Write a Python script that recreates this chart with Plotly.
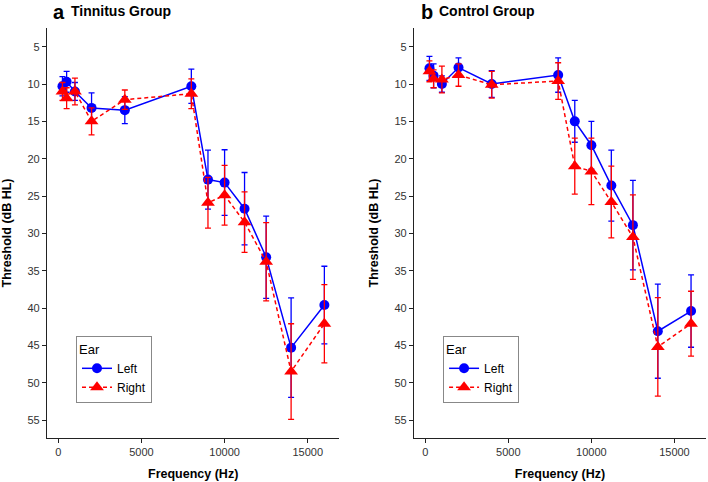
import plotly.graph_objects as go

freqs = [250, 500, 1000, 2000, 4000, 8000, 9000, 10000, 11200, 12500, 14000, 16000]

# Tinnitus group (panel a)
tin_left = [10.3, 9.7, 11.0, 13.2, 13.5, 10.3, 22.8, 23.2, 26.7, 33.2, 45.3, 39.6]
tin_left_se = [1.3, 1.4, 1.2, 2.0, 1.8, 2.3, 3.95, 4.4, 4.85, 5.5, 6.65, 5.2]
tin_right = [11.0, 11.9, 11.0, 15.0, 12.1, 11.3, 25.9, 24.9, 28.5, 33.8, 48.5, 42.1]
tin_right_se = [1.2, 1.4, 1.8, 1.8, 1.3, 2.0, 3.4, 4.0, 4.05, 5.25, 6.4, 5.25]

# Control group (panel b)
con_left = [7.9, 8.9, 10.0, 7.8, 10.0, 8.8, 15.0, 18.2, 23.6, 28.9, 43.1, 40.4]
con_left_se = [1.6, 1.6, 1.1, 1.3, 1.8, 2.3, 2.8, 3.2, 4.75, 6.0, 6.3, 4.85]
con_right = [8.3, 9.3, 9.4, 8.8, 10.1, 9.6, 21.0, 21.7, 25.8, 30.5, 45.2, 42.1]
con_right_se = [1.4, 1.2, 1.8, 1.5, 1.8, 2.45, 3.75, 4.45, 4.8, 5.65, 6.6, 4.35]

panel_letters = ["a", "b"]
panel_titles = ["Tinnitus Group", "Control Group"]
ear_names = ["Left", "Right"]
y_ticks = [5, 10, 15, 20, 25, 30, 35, 40, 45, 50, 55]
x_ticks = [0, 5000, 10000, 15000]
x_tick_labels = ["0", "5000", "10000", "15000"]

BLUE = "#0000FF"
RED = "#FF0000"
FONT = "Liberation Sans, Arial, sans-serif"

fig = go.Figure()

panels = [
    ("x", "y", "legend", tin_left, tin_left_se, tin_right, tin_right_se),
    ("x2", "y2", "legend2", con_left, con_left_se, con_right, con_right_se),
]

for xa, ya, lg, lv, lse, rv, rse in panels:
    fig.add_trace(go.Scatter(
        x=freqs, y=lv, xaxis=xa, yaxis=ya, legend=lg, name=ear_names[0],
        mode="lines+markers",
        line=dict(color=BLUE, width=1.5),
        marker=dict(symbol="circle", size=10, color=BLUE),
        error_y=dict(type="data", array=lse, symmetric=True, color=BLUE,
                     thickness=1.3, width=3),
    ))
    fig.add_trace(go.Scatter(
        x=freqs, y=rv, xaxis=xa, yaxis=ya, legend=lg, name=ear_names[1],
        mode="lines+markers",
        line=dict(color=RED, width=1.5, dash="4px,3px"),
        marker=dict(symbol="triangle-up", size=12, color=RED),
        error_y=dict(type="data", array=rse, symmetric=True, color=RED,
                     thickness=1.3, width=3),
    ))

axis_common = dict(
    showgrid=False, zeroline=False, showline=True, linecolor="#222222", linewidth=1.2,
    ticks="outside", ticklen=4, tickwidth=1, tickcolor="#222222",
    tickfont=dict(family=FONT, size=11, color="#333333"),
)

xr = [-680, 16900]
yr = [57.4, 2.5]

fig.update_layout(
    width=708, height=482,
    margin=dict(l=47, r=2, t=28, b=44),
    paper_bgcolor="white", plot_bgcolor="white",
    font=dict(family=FONT, color="black"),
    xaxis=dict(domain=[0, 0.4436], range=xr, tickvals=x_ticks, ticktext=x_tick_labels,
               anchor="y",
               title=dict(text="<b>Frequency (Hz)</b>", font=dict(size=12.5), standoff=11),
               **axis_common),
    yaxis=dict(domain=[0, 1], range=yr, tickvals=y_ticks, anchor="x",
               title=dict(text="<b>Threshold (dB HL)</b>", font=dict(size=12.5), standoff=13),
               **axis_common),
    xaxis2=dict(domain=[0.5569, 1.0], range=xr, tickvals=x_ticks, ticktext=x_tick_labels,
                anchor="y2",
                title=dict(text="<b>Frequency (Hz)</b>", font=dict(size=12.5), standoff=11),
                **axis_common),
    yaxis2=dict(domain=[0, 1], range=yr, tickvals=y_ticks, anchor="x2",
                title=dict(text="<b>Threshold (dB HL)</b>", font=dict(size=12.5), standoff=13),
                **axis_common),
    legend=dict(x=0.044, y=0.249, xanchor="left", yanchor="top",
                bordercolor="#888888", borderwidth=1, bgcolor="white",
                title=dict(text="Ear", font=dict(size=13)),
                font=dict(size=12), tracegroupgap=0, itemwidth=30),
    legend2=dict(x=0.601, y=0.249, xanchor="left", yanchor="top",
                 bordercolor="#888888", borderwidth=1, bgcolor="white",
                 title=dict(text="Ear", font=dict(size=13)),
                 font=dict(size=12), tracegroupgap=0, itemwidth=30),
    showlegend=True,
)

letter_x = [51, 419]
title_x = [69, 436.5]
for i in range(2):
    fig.add_annotation(xref="paper", yref="paper",
                       x=(letter_x[i] - 47) / 659, y=(438 - 12) / 410,
                       xanchor="left", yanchor="middle", showarrow=False,
                       text="<b>" + panel_letters[i] + "</b>",
                       font=dict(family=FONT, size=20, color="black"))
    fig.add_annotation(xref="paper", yref="paper",
                       x=(title_x[i] - 47) / 659, y=(438 - 11) / 410,
                       xanchor="left", yanchor="middle", showarrow=False,
                       text="<b>" + panel_titles[i] + "</b>",
                       font=dict(family=FONT, size=14, color="black"))

fig.write_html("out.html",
               config={"displayModeBar": False},
               post_script="document.body.style.margin='0';document.body.style.padding='0';")
